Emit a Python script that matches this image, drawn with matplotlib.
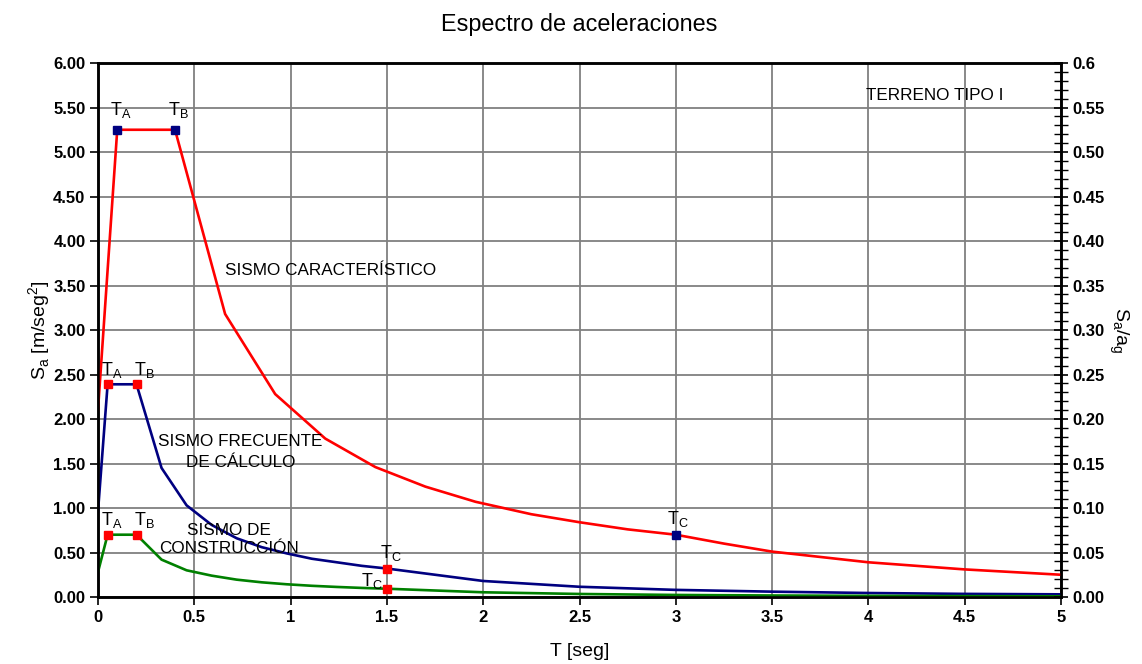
import matplotlib
matplotlib.use("Agg")
import matplotlib.pyplot as plt
from matplotlib.ticker import MultipleLocator

plt.rcParams['font.family'] = ['Liberation Sans', 'DejaVu Sans']

# sismo caracteristico (rojo)
t_car = [0.0, 0.1, 0.4, 0.66, 0.92, 1.18, 1.44, 1.70, 1.96, 2.25, 2.5, 2.75, 3.0,
         3.25, 3.5, 3.75, 4.0, 4.25, 4.5, 4.75, 5.0]
sa_car = [2.10, 5.25, 5.25, 3.18, 2.28, 1.78, 1.46, 1.24, 1.07, 0.93, 0.84, 0.76, 0.70,
          0.60, 0.51, 0.45, 0.39, 0.35, 0.31, 0.28, 0.25]

# sismo frecuente de calculo (azul)
t_fre = [0.0, 0.05, 0.2, 0.33, 0.46, 0.59, 0.72, 0.85, 0.98, 1.11, 1.24, 1.37, 1.5,
         2.0, 2.5, 3.0, 3.5, 4.0, 4.5, 5.0]
sa_fre = [0.96, 2.39, 2.39, 1.45, 1.03, 0.81, 0.66, 0.56, 0.49, 0.43, 0.39, 0.35, 0.32,
          0.18, 0.115, 0.08, 0.06, 0.045, 0.035, 0.03]

# sismo de construccion (verde)
t_con = [0.0, 0.05, 0.2, 0.33, 0.46, 0.59, 0.72, 0.85, 0.98, 1.11, 1.24, 1.37, 1.5,
         2.0, 2.5, 3.0, 3.5, 4.0, 4.5, 5.0]
sa_con = [0.28, 0.70, 0.70, 0.42, 0.30, 0.24, 0.195, 0.165, 0.143, 0.126, 0.113, 0.102, 0.093,
          0.053, 0.034, 0.023, 0.017, 0.013, 0.010, 0.008]

# puntos caracteristicos T_A, T_B, T_C
pts_car = ([0.1, 0.4, 3.0], [5.25, 5.25, 0.70])
pts_fre = ([0.05, 0.2, 1.5], [2.39, 2.39, 0.32])
pts_con = ([0.05, 0.2, 1.5], [0.70, 0.70, 0.093])

x_ticks = [0, 0.5, 1, 1.5, 2, 2.5, 3, 3.5, 4, 4.5, 5]
x_labels = ['0', '0.5', '1', '1.5', '2', '2.5', '3', '3.5', '4', '4.5', '5']

fig = plt.figure(figsize=(11.42, 6.64), dpi=100)
ax = fig.add_axes([0.0858, 0.1009, 0.8433, 0.8042])

ax.plot(t_car, sa_car, color='#ff0000', lw=1.9, zorder=3)
ax.plot(t_fre, sa_fre, color='#000080', lw=1.9, zorder=3)
ax.plot(t_con, sa_con, color='#008000', lw=1.9, zorder=3)

ax.plot(pts_car[0], pts_car[1], 's', color='#000080', ms=5.5, lw=0, zorder=4)
ax.plot(pts_fre[0], pts_fre[1], 's', color='#ff0000', ms=5.5, lw=0, zorder=4)
ax.plot(pts_con[0], pts_con[1], 's', color='#ff0000', ms=5.5, lw=0, zorder=4)

lab = dict(fontsize=13, ha='center', va='bottom', zorder=5)
ax.text(0.12, 5.36, r'T$_\mathregular{A}$', **lab)
ax.text(0.42, 5.36, r'T$_\mathregular{B}$', **lab)
ax.text(3.01, 0.76, r'T$_\mathregular{C}$', **lab)
ax.text(0.07, 2.44, r'T$_\mathregular{A}$', **lab)
ax.text(0.24, 2.44, r'T$_\mathregular{B}$', **lab)
ax.text(1.52, 0.38, r'T$_\mathregular{C}$', **lab)
ax.text(0.07, 0.75, r'T$_\mathregular{A}$', **lab)
ax.text(0.24, 0.75, r'T$_\mathregular{B}$', **lab)
ax.text(1.42, 0.07, r'T$_\mathregular{C}$', **lab)

ann = dict(fontsize=12.3, va='center')
ax.text(3.99, 5.63, 'TERRENO TIPO I', **ann)
ax.text(0.66, 3.67, 'SISMO CARACTERÍSTICO', **ann)
ax.text(0.74, 1.63, 'SISMO FRECUENTE\nDE CÁLCULO', ha='center', linespacing=1.45, **ann)
ax.text(0.68, 0.65, 'SISMO DE\nCONSTRUCCIÓN', ha='center', linespacing=1.25, **ann)

ax.set_xlim(0, 5)
ax.set_ylim(0, 6)
ax.set_xticks(x_ticks)
ax.set_xticklabels(x_labels, fontsize=12, fontweight='bold')
ax.set_yticks([i * 0.5 for i in range(13)])
ax.set_yticklabels(['%.2f' % (i * 0.5) for i in range(13)], fontsize=12, fontweight='bold')
ax.grid(True, color='#808080', lw=1.3)
ax.set_axisbelow(True)
ax.tick_params(direction='out', length=6, width=1.2, color='black', pad=3)
for s in ax.spines.values():
    s.set_color('black')
    s.set_linewidth(1.8)

ax.set_title('Espectro de aceleraciones', fontsize=16.8, pad=23)
ax.set_xlabel('T [seg]', fontsize=14, labelpad=13)
ax.set_ylabel(r'S$_\mathregular{a}$ [m/seg$^\mathregular{2}$]', fontsize=14, labelpad=0)

ax2 = ax.twinx()
ax2.set_ylim(0, 0.6)
ax2.set_yticks([i * 0.05 for i in range(13)])
ax2.set_yticklabels(['%.2f' % (i * 0.05) for i in range(12)] + ['0.6'],
                    fontsize=12, fontweight='bold')
ax2.yaxis.set_minor_locator(MultipleLocator(0.01))
ax2.tick_params(axis='y', which='major', direction='inout', length=10, width=1.2)
ax2.tick_params(axis='y', which='minor', direction='inout', length=10, width=1.0)
for s in ax2.spines.values():
    s.set_color('black')
    s.set_linewidth(1.8)
ax2.set_ylabel(r'S$_\mathregular{a}$/a$_\mathregular{g}$', fontsize=14, rotation=270,
               labelpad=18)

fig.savefig('out.png', dpi=100)
